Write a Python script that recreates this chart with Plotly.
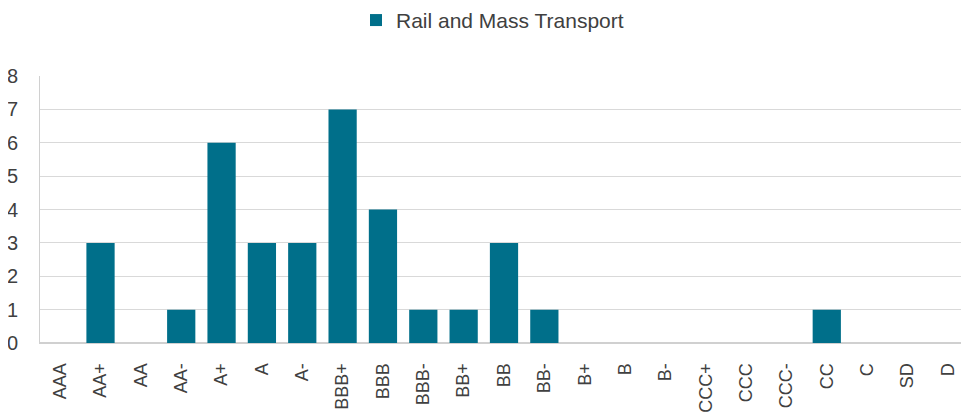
import plotly.graph_objects as go

categories = ["AAA", "AA+", "AA", "AA-", "A+", "A", "A-", "BBB+", "BBB", "BBB-",
              "BB+", "BB", "BB-", "B+", "B", "B-", "CCC+", "CCC", "CCC-", "CC",
              "C", "SD", "D"]
values = [0, 3, 0, 1, 6, 3, 3, 7, 4, 1, 1, 3, 1, 0, 0, 0, 0, 0, 0, 1, 0, 0, 0]
series_name = "Rail and Mass Transport"
y_ticks = [0, 1, 2, 3, 4, 5, 6, 7, 8]

fig = go.Figure()
fig.add_trace(go.Bar(
    x=categories, y=values, name=series_name,
    marker=dict(color="#006F8A", line=dict(width=0)),
    showlegend=True,
))

fig.update_layout(
    width=961, height=406,
    margin=dict(l=32, r=1, t=68, b=71, autoexpand=False),
    paper_bgcolor="white", plot_bgcolor="white",
    font=dict(family="Liberation Sans, Arial, sans-serif", color="#404040", size=16),
    bargap=0.3,
    legend=dict(orientation="h", x=0.3405, xanchor="left", y=1.285, yref="paper",
                yanchor="top", font=dict(size=21, color="#404040"),
                itemwidth=30),
    xaxis=dict(type="category", tickangle=-90, showline=True, linecolor="#D0D0D0",
               linewidth=1, ticks="", tickfont=dict(size=18, color="#404040"),
               ticklabelstandoff=12),
    yaxis=dict(range=[0, 8], tickvals=y_ticks, showgrid=True, gridcolor="#D9D9D9",
               gridwidth=1, zeroline=True, zerolinecolor="#D0D0D0", showline=True,
               linecolor="#D0D0D0", ticks="", tickfont=dict(size=20, color="#404040"),
               ticklabelstandoff=17),
)

fig.write_html("out.html")
